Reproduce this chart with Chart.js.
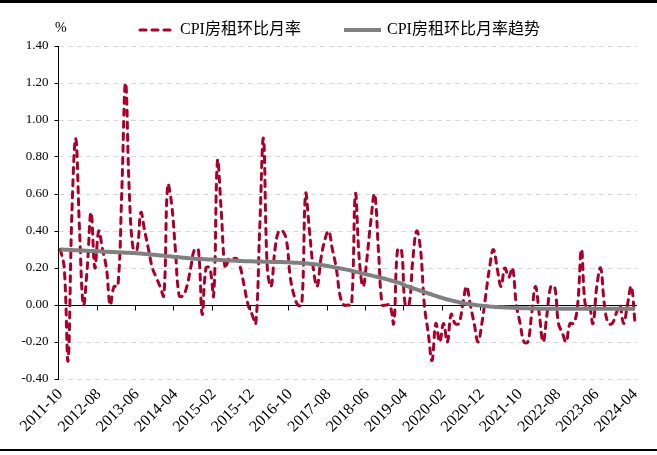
<!DOCTYPE html>
<html lang="zh">
<head>
<meta charset="UTF-8">
<title>CPI房租环比月率</title>
<script src="https://cdn.jsdelivr.net/npm/chart.js"></script>
<style>
  body { margin: 0; background: #fff; }
  .cadre { width: 657px; height: 455px; }
</style>
</head>
<body>
<div class="cadre"><canvas id="graphique" width="657" height="455"></canvas></div>
<script>
// mois : 2011-10 -> 2024-04
const debutAnnee = 2011;
const debutMois = 10;
const nbMois = 151;
const mois = [];
for (let k = 0; k < nbMois; k++) {
  const m = debutMois - 1 + k;
  mois.push((debutAnnee + Math.floor(m / 12)) + '-' + String(m % 12 + 1).padStart(2, '0'));
}

// CPI房租环比 (%)
const loyerMom = [
  0.3, 0.2, -0.3, 0.5, 0.9, 0.4, 0.0, 0.2, 0.5, 0.2,
  0.4, 0.3, 0.2, 0.0, 0.1, 0.1, 0.6, 1.2, 0.6, 0.3,
  0.3, 0.5, 0.4, 0.3, 0.2, 0.15, 0.1, 0.05, 0.65, 0.55,
  0.3, 0.05, 0.05, 0.1, 0.2, 0.3, 0.3, -0.05, 0.2, 0.2,
  0.05, 0.78, 0.5, 0.2, 0.25, 0.25, 0.25, 0.2, 0.1, 0.0,
  -0.05, -0.1, 0.4, 0.9, 0.2, 0.1, 0.3, 0.4, 0.4, 0.35,
  0.15, 0.05, 0.0, 0.0, 0.6, 0.4, 0.2, 0.1, 0.25, 0.35,
  0.4, 0.3, 0.2, 0.05, 0.0, 0.0, 0.0, 0.6, 0.25, 0.1,
  0.25, 0.45, 0.6, 0.3, 0.0, 0.0, 0.0, -0.1, 0.3, 0.3,
  0.0, 0.0, 0.25, 0.4, 0.3, 0.0, -0.15, -0.3, -0.1, -0.2,
  -0.1, -0.2, -0.05, -0.1, -0.1, 0.0, 0.1, 0.0, -0.1, -0.2,
  -0.1, 0.05, 0.2, 0.3, 0.2, 0.1, 0.2, 0.15, 0.2, 0.0,
  -0.1, -0.2, -0.2, -0.05, 0.1, -0.05, -0.2, -0.05, 0.1, 0.1,
  -0.1, -0.15, -0.2, -0.1, -0.1, 0.0, 0.3, 0.0, 0.0, -0.1,
  0.1, 0.2, 0.0, -0.1, -0.1, -0.05, 0.0, -0.1, 0.0, 0.1,
  -0.1
];

// 趋势
const loyerTendance = [
  0.300, 0.299, 0.298, 0.297, 0.296, 0.295, 0.294, 0.293, 0.292, 0.291,
  0.290, 0.289, 0.288, 0.287, 0.286, 0.285, 0.284, 0.283, 0.282, 0.281,
  0.280, 0.278, 0.276, 0.274, 0.272, 0.270, 0.268, 0.266, 0.264, 0.262,
  0.260, 0.258, 0.256, 0.254, 0.252, 0.250, 0.249, 0.248, 0.247, 0.246,
  0.245, 0.244, 0.243, 0.242, 0.241, 0.240, 0.239, 0.238, 0.237, 0.236,
  0.236, 0.235, 0.235, 0.234, 0.234, 0.233, 0.233, 0.232, 0.232, 0.231,
  0.230, 0.229, 0.228, 0.227, 0.225, 0.223, 0.221, 0.219, 0.216, 0.213,
  0.210, 0.206, 0.202, 0.198, 0.194, 0.190, 0.185, 0.180, 0.175, 0.170,
  0.165, 0.160, 0.155, 0.150, 0.145, 0.140, 0.134, 0.128, 0.122, 0.116,
  0.105, 0.098, 0.091, 0.084, 0.077, 0.070, 0.063, 0.056, 0.049, 0.042,
  0.036, 0.030, 0.025, 0.020, 0.015, 0.011, 0.007, 0.004, 0.001, -0.002,
  -0.004, -0.006, -0.008, -0.010, -0.011, -0.012, -0.013, -0.014, -0.015, -0.016,
  -0.017, -0.018, -0.018, -0.019, -0.019, -0.020, -0.020, -0.020, -0.020, -0.020,
  -0.020, -0.020, -0.020, -0.020, -0.020, -0.020, -0.020, -0.020, -0.020, -0.020,
  -0.020, -0.020, -0.020, -0.020, -0.020, -0.020, -0.020, -0.020, -0.020, -0.020,
  -0.020
];

const yMin = -0.4;
const yMax = 1.4;
const yPas = 0.2;
const pasEtiquettes = 10;

const policeSerif = '"Liberation Serif", "Times New Roman", serif';
const policeLegende = '"Liberation Serif", "Noto Sans CJK SC", serif';

// axe du zéro avec ses graduations (toutes les 10 catégories)
const axeZero = {
  id: 'axeZero',
  beforeDatasetsDraw(chart) {
    const { ctx, chartArea, scales } = chart;
    const y0 = Math.round(scales.y.getPixelForValue(0)) + 0.5;
    const demiPas = (scales.x.getPixelForValue(1) - scales.x.getPixelForValue(0)) / 2;
    ctx.save();
    ctx.strokeStyle = '#000';
    ctx.lineWidth = 1;
    ctx.beginPath();
    ctx.moveTo(chartArea.left, y0);
    ctx.lineTo(chartArea.right, y0);
    for (let k = pasEtiquettes; k < nbMois; k += pasEtiquettes) {
      const x = Math.round(scales.x.getPixelForValue(k) - demiPas) + 0.5;
      ctx.moveTo(x, y0);
      ctx.lineTo(x, y0 + 5);
    }
    ctx.stroke();
    ctx.restore();
  }
};

// légende, unité et traits du cadre
const decor = {
  id: 'decor',
  afterDraw(chart) {
    const ctx = chart.ctx;
    ctx.save();
    ctx.fillStyle = '#000';
    ctx.fillRect(0, 0, chart.width, 3);
    ctx.fillRect(0, 449, chart.width, 2);

    ctx.font = '14px ' + policeSerif;
    ctx.textBaseline = 'middle';
    ctx.fillText('%', 55, 28);

    const traits = [[138, 175], [342, 383]];
    const textes = [180, 387];
    chart.data.datasets.forEach((ds, i) => {
      ctx.beginPath();
      ctx.setLineDash(ds.borderDash || []);
      ctx.lineCap = ds.borderCapStyle || 'butt';
      ctx.strokeStyle = ds.borderColor;
      ctx.lineWidth = ds.borderWidth;
      ctx.moveTo(traits[i][0] + 2, 30);
      ctx.lineTo(traits[i][1] - 2, 30);
      ctx.stroke();
      ctx.setLineDash([]);
      ctx.font = '16px ' + policeLegende;
      ctx.fillStyle = '#000';
      ctx.fillText(ds.label, textes[i], 30);
    });
    ctx.restore();
  }
};

new Chart(document.getElementById('graphique'), {
  type: 'line',
  data: {
    labels: mois,
    datasets: [
      {
        label: 'CPI房租环比月率',
        data: loyerMom,
        borderColor: '#A8002B',
        borderWidth: 3,
        borderDash: [6, 6],
        borderCapStyle: 'round',
        pointRadius: 0,
        tension: 0.4,
        order: 1
      },
      {
        label: 'CPI房租环比月率趋势',
        data: loyerTendance,
        borderColor: '#808080',
        borderWidth: 4,
        pointRadius: 0,
        tension: 0.4,
        order: 0
      }
    ]
  },
  options: {
    responsive: false,
    animation: false,
    devicePixelRatio: 1,
    layout: { padding: { top: 46, right: 20, left: 0, bottom: 0 } },
    plugins: {
      legend: { display: false },
      tooltip: { enabled: false }
    },
    scales: {
      x: {
        type: 'category',
        offset: true,
        grid: { display: false, drawTicks: false },
        border: { display: false },
        ticks: {
          autoSkip: false,
          minRotation: 45,
          maxRotation: 45,
          padding: 6,
          color: '#000',
          font: { family: policeSerif, size: 16 },
          callback: function (v, i) {
            return i % pasEtiquettes === 0 ? this.getLabelForValue(v) : '';
          }
        },
        afterFit: s => { s.height = 76; }
      },
      y: {
        min: yMin,
        max: yMax,
        border: { color: '#000', width: 1, dash: [5, 4] },
        grid: {
          color: c => (Math.abs(c.tick.value) < 1e-9 ? 'rgba(0,0,0,0)' : '#D9D9D9'),
          tickColor: '#000',
          tickLength: 4,
          tickBorderDash: []
        },
        ticks: {
          stepSize: yPas,
          padding: 6,
          color: '#000',
          font: { family: policeSerif, size: 13 },
          callback: v => (Math.abs(v) < 1e-9 ? 0 : v).toFixed(2)
        },
        afterFit: s => { s.width = 58.5; }
      }
    }
  },
  plugins: [axeZero, decor]
});
</script>
</body>
</html>
